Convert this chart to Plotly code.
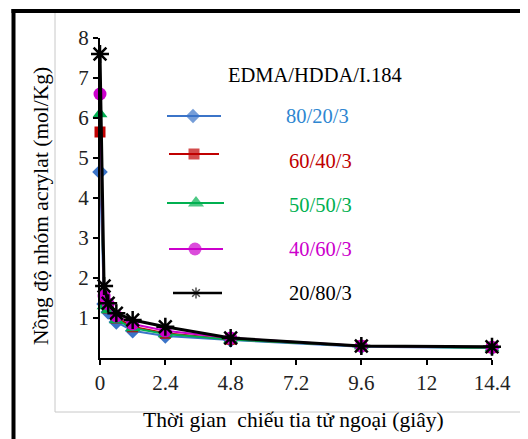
import plotly.graph_objects as go

# ---------------- data ----------------
time_s = [0, 0.15, 0.3, 0.6, 1.2, 2.4, 4.8, 9.6, 14.4]
s_80_20 = [4.65, 1.35, 1.15, 0.90, 0.68, 0.55, 0.45, 0.28, 0.25]
s_60_40 = [5.65, 1.45, 1.25, 1.00, 0.78, 0.62, 0.47, 0.30, 0.26]
s_50_50 = [6.10, 1.30, 1.20, 0.95, 0.75, 0.60, 0.46, 0.30, 0.25]
s_40_60 = [6.60, 1.55, 1.35, 1.05, 0.85, 0.68, 0.50, 0.30, 0.27]
s_20_80 = [7.60, 1.80, 1.37, 1.12, 0.95, 0.78, 0.50, 0.30, 0.28]

names = ["80/20/3", "60/40/3", "50/50/3", "40/60/3", "20/80/3"]
series = [s_80_20, s_60_40, s_50_50, s_40_60, s_20_80]
x_ticks = [0, 2.4, 4.8, 7.2, 9.6, 12, 14.4]
x_tick_labels = ["0", "2.4", "4.8", "7.2", "9.6", "12", "14.4"]
y_ticks = [1, 2, 3, 4, 5, 6, 7, 8]
legend_title = "EDMA/HDDA/I.184"
x_title = "Thời gian  chiếu tia tử ngoại (giây)"
y_title = "Nồng độ nhóm acrylat (mol/Kg)"

# ---------------- styles ----------------
line_colors = ["#3B74C8", "#C00000", "#00B050", "#CC00CC", "#000000"]
text_colors = ["#2E86D1", "#C00000", "#00B050", "#CC00CC", "#000000"]
symbols = ["diamond", "square", "triangle-up", "circle", "asterisk-open"]
msizes = [12, 11, 13, 13, 15]
lwidths = [2, 2, 2, 2, 3]
leg_msizes = [11, 11, 14, 13, 9]
FONT = "Liberation Serif"
LEG_FS = 20.5
TICK_FS = 21
TITLE_FS = 21.5

# page body has an 8px default margin -> work in screen coords, shift by OFF
OFF = 8
SW, SH = 528, 439
W, H = SW - OFF, SH - OFF
SPX0, SPX1 = 100, 492     # plot area in screen px
SPY0, SPY1 = 38, 358
L, R = SPX0 - OFF, W - (SPX1 - OFF)
T, B = SPY0 - OFF, H - (SPY1 - OFF)

fig = go.Figure()

for nm, ys, c, sym, ms, lw in zip(names, series, line_colors, symbols, msizes, lwidths):
    is_star = sym.startswith("asterisk")
    fig.add_trace(go.Scatter(
        x=time_s, y=ys, mode="lines+markers", name=nm,
        line=dict(color=c, width=lw),
        marker=dict(symbol=sym, size=ms, color=c,
                    line=dict(color=c, width=2.5 if is_star else 0)),
        cliponaxis=False, showlegend=False,
    ))

# custom legend on a screen-pixel overlay axis
leg_line_x = [(167, 221), (169, 219), (167, 224), (169, 223), (173, 222)]
leg_mark_x = [193, 194, 196, 195, 196]
leg_line_y = [116, 154, 203, 249, 293]
leg_text_y = [116, 161, 205, 249, 293]
leg_text_x = [317, 320, 320, 320, 320]

for i, (nm, c, sym) in enumerate(zip(names, line_colors, symbols)):
    is_star = sym.startswith("asterisk")
    x0, x1 = leg_line_x[i]
    fig.add_trace(go.Scatter(
        x=[x0, leg_mark_x[i], x1], y=[leg_line_y[i]] * 3,
        xaxis="x2", yaxis="y2", mode="lines+markers",
        line=dict(color=c, width=lwidths[i] if not is_star else 2.5),
        marker=dict(symbol=sym, size=[0, leg_msizes[i], 0], color=c,
                    line=dict(color=c, width=1.5 if is_star else 0)),
        showlegend=False, hoverinfo="skip", cliponaxis=False,
    ))

annotations = [dict(x=315, y=75, xref="x2", yref="y2", text=legend_title,
                    showarrow=False, font=dict(family=FONT, size=LEG_FS, color="#000"),
                    xanchor="center", yanchor="middle")]
for i, nm in enumerate(names):
    annotations.append(dict(x=leg_text_x[i], y=leg_text_y[i], xref="x2", yref="y2",
                            text=nm, showarrow=False,
                            font=dict(family=FONT, size=LEG_FS, color=text_colors[i]),
                            xanchor="center", yanchor="middle"))

pw, ph = SPX1 - SPX0, SPY1 - SPY0
def px(xs):
    return (xs - SPX0) / pw
def py(ys):
    return (SPY1 - ys) / ph

annotations.append(dict(x=px(293.5), y=py(420), xref="paper", yref="paper", text=x_title,
                        showarrow=False, font=dict(family=FONT, size=TITLE_FS, color="#000"),
                        xanchor="center", yanchor="middle"))
annotations.append(dict(x=px(41), y=py(206), xref="paper", yref="paper", text=y_title,
                        showarrow=False, textangle=-90,
                        font=dict(family=FONT, size=TITLE_FS, color="#000"),
                        xanchor="center", yanchor="middle"))

shapes = [
    dict(type="line", xref="paper", yref="paper", x0=px(55), x1=px(55), y0=py(11), y1=py(412),
         line=dict(color="#C8C8C8", width=1)),
    dict(type="line", xref="paper", yref="paper", x0=px(55), x1=px(530), y0=py(412), y1=py(412),
         line=dict(color="#C8C8C8", width=1)),
    dict(type="line", xref="paper", yref="paper", x0=px(13.5), x1=px(13.5), y0=py(9), y1=py(445),
         line=dict(color="#000", width=4)),
    dict(type="line", xref="paper", yref="paper", x0=px(11.5), x1=px(535), y0=py(11), y1=py(11),
         line=dict(color="#000", width=4)),
]

fig.update_layout(
    width=W, height=H,
    margin=dict(l=L, r=R, t=T, b=B, autoexpand=False),
    paper_bgcolor="white", plot_bgcolor="white",
    font=dict(family=FONT, size=TICK_FS, color="#222"),
    showlegend=False,
    xaxis=dict(range=[0, 14.4], tickvals=x_ticks, ticktext=x_tick_labels,
               showgrid=False, zeroline=False, showline=True, linecolor="#000", linewidth=2,
               ticks="outside", ticklen=5, tickwidth=2, tickcolor="#000",
               tickfont=dict(family=FONT, size=TICK_FS, color="#222")),
    yaxis=dict(range=[0, 8], tickvals=y_ticks,
               showgrid=False, zeroline=False, showline=True, linecolor="#000", linewidth=2,
               ticks="outside", ticklen=5, tickwidth=2, tickcolor="#000",
               tickfont=dict(family=FONT, size=TICK_FS, color="#222")),
    xaxis2=dict(range=[SPX0, SPX1], overlaying="x", visible=False, fixedrange=True),
    yaxis2=dict(range=[SPY1, SPY0], overlaying="y", visible=False, fixedrange=True),
    annotations=annotations,
    shapes=shapes,
)

fig.write_html("out.html")
